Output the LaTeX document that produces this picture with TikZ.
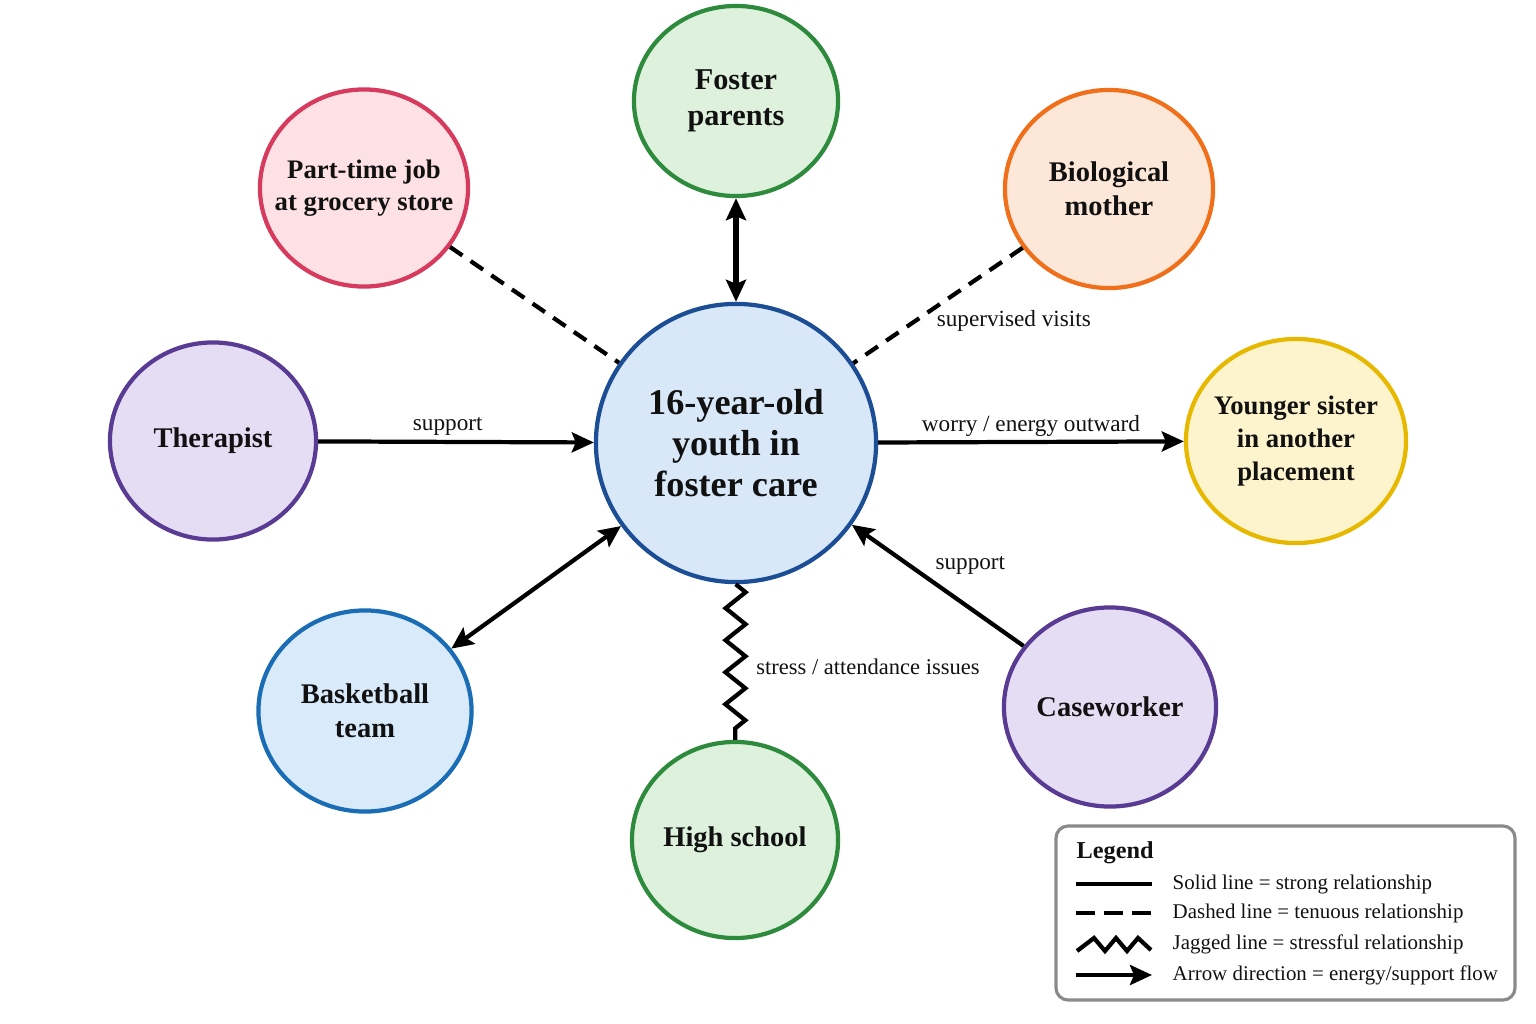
\documentclass[tikz,border=0pt]{standalone}
\usepackage{fontspec}
\setmainfont{Liberation Serif}
\usetikzlibrary{arrows.meta,shapes.geometric,decorations.pathmorphing,positioning}
\definecolor{ink}{HTML}{111111}
\definecolor{youthfill}{HTML}{D8E8F8}
\definecolor{youthline}{HTML}{1C4E96}
\definecolor{greenfill}{HTML}{DDF1DD}
\definecolor{greenline}{HTML}{2E8B3E}
\definecolor{pinkfill}{HTML}{FDE1E5}
\definecolor{pinkline}{HTML}{D63A5C}
\definecolor{orangefill}{HTML}{FDE7D8}
\definecolor{orangeline}{HTML}{F06F1A}
\definecolor{purplefill}{HTML}{E5DDF3}
\definecolor{purpleline}{HTML}{5A3B94}
\definecolor{yellowfill}{HTML}{FDF4CD}
\definecolor{yellowline}{HTML}{E6B800}
\definecolor{bluefill}{HTML}{D9EAFA}
\definecolor{blueline}{HTML}{1A6DB5}
\definecolor{legendline}{HTML}{8A8A8A}
\tikzset{
  bub/.style={ellipse, draw=#1line, fill=#1fill, line width=1.2pt, inner xsep=-0.25cm, inner ysep=0pt, align=center, text=ink,
    font=\fontsize{8.1}{9.6}\selectfont\bfseries},
  tip/.style={-{Stealth[length=2.2mm,width=2mm,inset=0.4mm]}},
  tips/.style={{Stealth[length=2.2mm,width=2mm,inset=0.4mm]}-{Stealth[length=2.2mm,width=2mm,inset=0.4mm]}},
  tie/.style={line width=1.2pt, draw=black},
  weak/.style={tie, dash pattern=on 1.5mm off 1mm},
  jag/.style={tie, decorate, decoration={zigzag, segment length=3.2mm, amplitude=1mm}},
  lbl/.style={text=ink, font=\fontsize{6.6}{8}\selectfont},
  keytxt/.style={text=ink, font=\fontsize{5.95}{7.5}\selectfont, anchor=west, inner sep=0pt}
}
\begin{document}
\begin{tikzpicture}[x=0.01cm,y=-0.01cm]
\useasboundingbox (0,0) rectangle (1536,1024);
\node[bub=youth, minimum width=2.8cm, minimum height=2.78cm, font=\fontsize{10.3}{11.6}\selectfont\bfseries] (youth) at (736,443) {16-year-old\\youth in\\foster care};
\node[bub=green, minimum width=2.04cm, minimum height=1.9cm, font=\fontsize{8.6}{10.2}\selectfont\bfseries] (foster) at (736,101) {Foster\\parents};
\node[bub=pink, minimum width=2.08cm, minimum height=1.97cm, font=\fontsize{7.6}{9.1}\selectfont\bfseries] (job) at (364,188) {Part-time job\\at grocery store};
\node[bub=orange, minimum width=2.08cm, minimum height=1.98cm] (biomom) at (1109,189) {Biological\\mother};
\node[bub=purple, minimum width=2.06cm, minimum height=1.97cm] (therapist) at (213,441) {Therapist};
\node[bub=yellow, minimum width=2.2cm, minimum height=2.04cm, font=\fontsize{7.6}{9.5}\selectfont\bfseries] (sister) at (1296,441) {Younger sister\\in another\\placement};
\node[bub=blue, minimum width=2.13cm, minimum height=2.01cm] (hoops) at (365,711) {Basketball\\team};
\node[bub=green, minimum width=2.06cm, minimum height=1.96cm] (school) at (735,840) {High school};
\node[bub=purple, minimum width=2.12cm, minimum height=1.99cm] (worker) at (1110,707) {Caseworker};

\draw[tie, tips, line width=1.6pt] (foster) -- (youth);
\draw[weak] (job) -- (youth);
\draw[weak] (biomom) -- node[lbl, anchor=north west, xshift=-0.15cm, yshift=0.09cm]{supervised visits} (youth);
\draw[tie, tip] (therapist) -- node[lbl, above, pos=0.47, yshift=-0.07cm]{support} (youth);
\draw[tie, tip] (youth) -- node[lbl, above, yshift=-0.08cm]{worry / energy outward} (sister);
\draw[tie, tips] (hoops) -- (youth);
\draw[tie, tip] (worker) -- node[lbl, above right, xshift=-0.16cm, yshift=-0.03cm]{support} (youth);
\draw[jag] (youth) -- (school);
\node[lbl, anchor=west, font=\fontsize{6.4}{8}\selectfont] (stresslbl) at (744,667) {stress / attendance issues};

\draw[draw=legendline, line width=0.9pt, rounded corners=0.12cm] (1056,826) rectangle (1515,1000);
\node[text=ink, font=\fontsize{6.9}{8}\selectfont\bfseries, anchor=west, inner sep=0pt] (legend) at (1076,853) {Legend};
\coordinate (k1) at (1076,884);
\coordinate (k2) at (1076,913);
\coordinate (k3) at (1077,951);
\coordinate (k4) at (1076,975);
\draw[tie] (k1) -- ++(76,0);
\draw[tie, dash pattern=on 1.9mm off 0.9mm] (k2) -- ++(76,0);
\draw[tie, line join=miter] (k3) -- ++(17,-13) -- ++(11,13) -- ++(11,-13) -- ++(11,13) -- ++(11,-13) -- ++(13,12);
\draw[tie, tip] (k4) -- ++(76,0);
\node[keytxt] at (1172,884) {Solid line = strong relationship};
\node[keytxt] at (1172,913) {Dashed line = tenuous relationship};
\node[keytxt] at (1172,944) {Jagged line = stressful relationship};
\node[keytxt] at (1172,975) {Arrow direction = energy/support flow};
\end{tikzpicture}
\end{document}
